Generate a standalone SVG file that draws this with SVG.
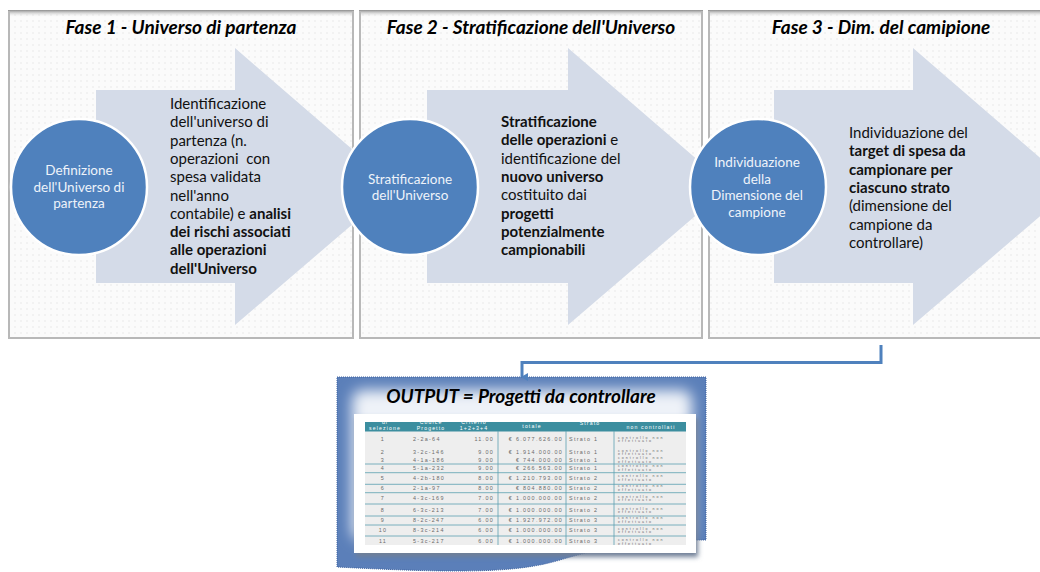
<svg xmlns="http://www.w3.org/2000/svg" width="1040" height="572" viewBox="0 0 1040 572">
<style>
.title{font-family:Lato,"Open Sans",sans-serif;font-weight:bold;font-style:italic;font-size:19px;fill:#000;text-anchor:middle}
.body{font-family:Lato,"Open Sans",sans-serif;font-size:15px;fill:#111}
.b{font-weight:bold}
.ctext{font-family:Lato,"Open Sans",sans-serif;font-size:13.5px;fill:#eef3fa;text-anchor:middle}
.arrow{fill:#d4dbe8}
.circle{fill:#4f81bd;stroke:#ffffff;stroke-width:2.5}
.panelbg{fill:url(#dots)}
.side{fill:none;stroke:#b8b8b8;stroke-width:2}
.tbl{font-family:"Liberation Sans",Arial,sans-serif;font-size:5.4px;fill:#6a6a6a;letter-spacing:1.3px}
.tsm{font-size:3.6px;letter-spacing:2px}
.th{font-family:"Liberation Sans",Arial,sans-serif;font-size:5.2px;fill:#ffffff;letter-spacing:1.1px;text-anchor:middle}
.tline{stroke:#5aa0b0;stroke-width:0.8}
.conn{fill:none;stroke:#4f81bd;stroke-width:3}
</style>
<defs>
<pattern id="dots" width="6" height="6" patternUnits="userSpaceOnUse">
<rect width="6" height="6" fill="#fbfbfb"/>
<circle cx="3" cy="3" r="0.7" fill="#e2e2e2"/>
</pattern>
<linearGradient id="topshadow" x1="0" y1="0" x2="0" y2="1">
<stop offset="0" stop-color="#8c8c8c"/>
<stop offset="1" stop-color="#f4f4f4" stop-opacity="0"/>
</linearGradient>
<marker id="ah" markerWidth="8" markerHeight="8" refX="4" refY="6" orient="auto-start-reverse" markerUnits="userSpaceOnUse" viewBox="0 0 8 8">
<path d="M0,0 L8,0 L4,7 Z" fill="#4f81bd"/>
</marker>
<filter id="blur6" x="-20%" y="-20%" width="140%" height="140%"><feGaussianBlur stdDeviation="7"/></filter>
<filter id="shadow" x="-10%" y="-10%" width="120%" height="130%"><feGaussianBlur stdDeviation="2.5"/></filter>
<clipPath id="docclip"><path d="M337,377 H706 V540 C640,540 600,548 560,560 C520,572 470,574 337,567 Z"/></clipPath>
<clipPath id="tblclip"><rect x="365" y="422" width="321" height="123"/></clipPath>
</defs>

<!-- panels -->
<g id="panel1">
<rect class="panelbg" x="8" y="10" width="346" height="328"/>
<rect x="8" y="10" width="346" height="7" fill="url(#topshadow)"/>
<path class="side" d="M9,11 V338 H353 V11"/>
</g>
<g id="panel2">
<rect class="panelbg" x="359" y="10" width="344" height="328"/>
<rect x="359" y="10" width="344" height="7" fill="url(#topshadow)"/>
<path class="side" d="M360,11 V338 H702 V11"/>
</g>
<g id="panel3">
<rect class="panelbg" x="708" y="10" width="340" height="328"/>
<rect x="708" y="10" width="340" height="7" fill="url(#topshadow)"/>
<path class="side" d="M709,11 V338 H1042"/>
</g>

<!-- arrows -->
<g id="arrow1"><path class="arrow" d="M96,90 H235 V48 L396,187 L235,325 V283 H96 Z"/></g>
<g id="arrow2"><path class="arrow" d="M427,90 H568 V48 L729,187 L568,325 V283 H427 Z"/></g>
<g id="arrow3"><path class="arrow" d="M774,90 H913 V48 L1074,187 L913,325 V283 H774 Z"/></g>

<!-- titles -->
<text class="title" x="181" y="34">Fase 1 - Universo di partenza</text>
<text class="title" x="531" y="34">Fase 2 - Stratificazione dell'Universo</text>
<text class="title" x="881" y="34">Fase 3 - Dim. del camipione</text>

<!-- arrow texts -->
<g id="text1">
<text class="body" x="170" y="109">Identificazione</text>
<text class="body" x="170" y="127.3">dell'universo di</text>
<text class="body" x="170" y="145.6">partenza (n.</text>
<text class="body" x="170" y="163.9" xml:space="preserve">operazioni  con</text>
<text class="body" x="170" y="182.2">spesa validata</text>
<text class="body" x="170" y="200.5">nell'anno</text>
<text class="body" x="170" y="218.8">contabile) e <tspan class="b">analisi</tspan></text>
<text class="body b" x="170" y="237.1">dei rischi associati</text>
<text class="body b" x="170" y="255.4">alle operazioni</text>
<text class="body b" x="170" y="273.7">dell'Universo</text>
</g>
<g id="text2">
<text class="body b" x="501" y="127">Stratificazione</text>
<text class="body" x="501" y="145.3"><tspan class="b">delle operazioni</tspan> e</text>
<text class="body" x="501" y="163.6">identificazione del</text>
<text class="body b" x="501" y="181.9">nuovo universo</text>
<text class="body" x="501" y="200.2">costituito dai</text>
<text class="body b" x="501" y="218.5">progetti</text>
<text class="body b" x="501" y="236.8">potenzialmente</text>
<text class="body b" x="501" y="255.1">campionabili</text>
</g>
<g id="text3">
<text class="body" x="849" y="138">Individuazione del</text>
<text class="body b" x="849" y="156.3">target di spesa da</text>
<text class="body b" x="849" y="174.6">campionare per</text>
<text class="body b" x="849" y="192.9">ciascuno strato</text>
<text class="body" x="849" y="211.2">(dimensione del</text>
<text class="body" x="849" y="229.5">campione da</text>
<text class="body" x="849" y="247.8">controllare)</text>
</g>

<!-- circles -->
<g id="circle1">
<circle class="circle" cx="79" cy="187" r="68"/>
<text class="ctext" x="79" y="175">Definizione</text>
<text class="ctext" x="79" y="192">dell'Universo di</text>
<text class="ctext" x="79" y="208">partenza</text>
</g>
<g id="circle2">
<circle class="circle" cx="410" cy="187" r="68"/>
<text class="ctext" x="410" y="184">Stratificazione</text>
<text class="ctext" x="410" y="200">dell'Universo</text>
</g>
<g id="circle3">
<circle class="circle" cx="758" cy="187" r="68"/>
<text class="ctext" x="757" y="167">Individuazione</text>
<text class="ctext" x="757" y="184">della</text>
<text class="ctext" x="757" y="200">Dimensione del</text>
<text class="ctext" x="757" y="217">campione</text>
</g>

<!-- output -->
<g id="output">
<path d="M337,377 H706 V540 C640,540 600,548 560,560 C520,572 470,574 337,567 Z" fill="#5b7fb9"/>
<g clip-path="url(#docclip)">
<rect x="352" y="390" width="340" height="150" rx="10" fill="#eef2f8" filter="url(#blur6)"/>
</g>
<path d="M337,377 H706 V540 C640,540 600,548 560,560 C520,572 470,574 337,567 Z" fill="none" stroke="#3f63a0" stroke-width="1" stroke-dasharray="1 1"/>
<text class="title" x="521" y="403">OUTPUT = Progetti da controllare</text>
<rect x="356" y="418" width="342" height="139" fill="#6f7f96" filter="url(#shadow)"/>
<rect x="354" y="414" width="342" height="139" fill="#ffffff"/>
<g clip-path="url(#tblclip)">
<rect x="365" y="431" width="321" height="114" fill="#eeeeee"/>
<rect x="365" y="422" width="321" height="9.5" fill="#3c8e9f"/>
<text class="th" x="385" y="424">di</text>
<text class="th" x="385" y="430">selezione</text>
<text class="th" x="431" y="424">Codice</text>
<text class="th" x="431" y="430">Progetto</text>
<text class="th" x="474" y="424">Criterio</text>
<text class="th" x="474" y="430">1+2+3+4</text>
<text class="th" x="532" y="428">totale</text>
<text class="th" x="590" y="425">Strato</text>
<text class="th" x="651" y="429">non controllati</text>
<line class="tline" x1="498" y1="431" x2="498" y2="545"/>
<line class="tline" x1="566" y1="431" x2="566" y2="545"/>
<line class="tline" x1="614" y1="431" x2="614" y2="545"/>
<line class="tline" x1="365" y1="464" x2="686" y2="464"/>
<line class="tline" x1="365" y1="472.7" x2="686" y2="472.7"/>
<line class="tline" x1="365" y1="484.3" x2="686" y2="484.3"/>
<line class="tline" x1="365" y1="492.7" x2="686" y2="492.7"/>
<line class="tline" x1="365" y1="504" x2="686" y2="504"/>
<line class="tline" x1="365" y1="516" x2="686" y2="516"/>
<line class="tline" x1="365" y1="525" x2="686" y2="525"/>
<line class="tline" x1="365" y1="536" x2="686" y2="536"/>
<g class="tbl">
<text x="383" y="441" text-anchor="middle">1</text><text x="413" y="441">2-2a-64</text><text x="494" y="441" text-anchor="end">11.00</text><text x="563" y="441" text-anchor="end">€ 6.077.626.00</text><text x="569" y="441">Strato 1</text><text class="tsm" x="618" y="438.8">controllo non</text><text class="tsm" x="618" y="442.4">effettuato</text>
<text x="383" y="454" text-anchor="middle">2</text><text x="413" y="454">3-2c-146</text><text x="494" y="454" text-anchor="end">9.00</text><text x="563" y="454" text-anchor="end">€ 1.914.000.00</text><text x="569" y="454">Strato 1</text><text class="tsm" x="618" y="451.5">controllo non</text><text class="tsm" x="618" y="455.1">effettuato</text>
<text x="383" y="461.7" text-anchor="middle">3</text><text x="413" y="461.7">4-1a-186</text><text x="494" y="461.7" text-anchor="end">9.00</text><text x="563" y="461.7" text-anchor="end">€ 744.000.00</text><text x="569" y="461.7">Strato 1</text><text class="tsm" x="618" y="459.4">controllo non</text><text class="tsm" x="618" y="463">effettuato</text>
<text x="383" y="469.7" text-anchor="middle">4</text><text x="413" y="469.7">5-1a-232</text><text x="494" y="469.7" text-anchor="end">9.00</text><text x="563" y="469.7" text-anchor="end">€ 266.563.00</text><text x="569" y="469.7">Strato 1</text><text class="tsm" x="618" y="467.4">controllo non</text><text class="tsm" x="618" y="471">effettuato</text>
<text x="383" y="479.7" text-anchor="middle">5</text><text x="413" y="479.7">4-2b-180</text><text x="494" y="479.7" text-anchor="end">8.00</text><text x="563" y="479.7" text-anchor="end">€ 1.210.793.00</text><text x="569" y="479.7">Strato 2</text><text class="tsm" x="618" y="477.4">controllo non</text><text class="tsm" x="618" y="481">effettuato</text>
<text x="383" y="489.7" text-anchor="middle">6</text><text x="413" y="489.7">2-1a-97</text><text x="494" y="489.7" text-anchor="end">8.00</text><text x="563" y="489.7" text-anchor="end">€ 804.880.00</text><text x="569" y="489.7">Strato 2</text><text class="tsm" x="618" y="487.4">controllo non</text><text class="tsm" x="618" y="491">effettuato</text>
<text x="383" y="500" text-anchor="middle">7</text><text x="413" y="500">4-3c-169</text><text x="494" y="500" text-anchor="end">7.00</text><text x="563" y="500" text-anchor="end">€ 1.000.000.00</text><text x="569" y="500">Strato 2</text><text class="tsm" x="618" y="497.7">controllo non</text><text class="tsm" x="618" y="501.3">effettuato</text>
<text x="383" y="512" text-anchor="middle">8</text><text x="413" y="512">6-3c-213</text><text x="494" y="512" text-anchor="end">7.00</text><text x="563" y="512" text-anchor="end">€ 1.000.000.00</text><text x="569" y="512">Strato 2</text><text class="tsm" x="618" y="509.7">controllo non</text><text class="tsm" x="618" y="513.3">effettuato</text>
<text x="383" y="521.7" text-anchor="middle">9</text><text x="413" y="521.7">8-2c-247</text><text x="494" y="521.7" text-anchor="end">6.00</text><text x="563" y="521.7" text-anchor="end">€ 1.927.972.00</text><text x="569" y="521.7">Strato 3</text><text class="tsm" x="618" y="519.4">controllo non</text><text class="tsm" x="618" y="523">effettuato</text>
<text x="383" y="532" text-anchor="middle">10</text><text x="413" y="532">8-3c-214</text><text x="494" y="532" text-anchor="end">6.00</text><text x="563" y="532" text-anchor="end">€ 1.000.000.00</text><text x="569" y="532">Strato 3</text><text class="tsm" x="618" y="529.7">controllo non</text><text class="tsm" x="618" y="533.3">effettuato</text>
<text x="383" y="543.4" text-anchor="middle">11</text><text x="413" y="543.4">5-3c-217</text><text x="494" y="543.4" text-anchor="end">6.00</text><text x="563" y="543.4" text-anchor="end">€ 1.000.000.00</text><text x="569" y="543.4">Strato 3</text><text class="tsm" x="618" y="541.1">controllo non</text><text class="tsm" x="618" y="544.7">effettuato</text>
</g>
</g>
</g>

<!-- connectors -->
<g id="connectors">
<path class="conn" d="M881,345 V362.5 H522 V377" marker-end="url(#ah)"/>
</g>
</svg>
